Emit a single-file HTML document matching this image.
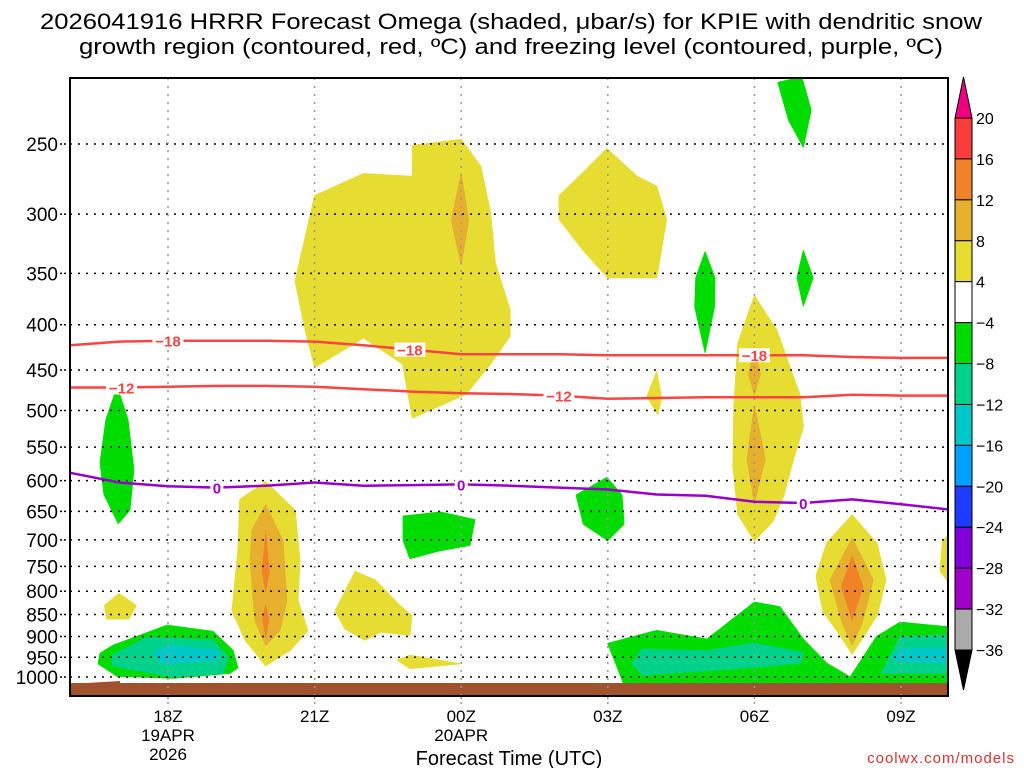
<!DOCTYPE html>
<html><head><meta charset="utf-8"><style>
html,body{margin:0;padding:0;background:#fff;}
svg{display:block;font-family:"Liberation Sans",sans-serif;}
</style></head><body>
<svg id="chart" width="1024" height="768" viewBox="0 0 1024 768" xmlns="http://www.w3.org/2000/svg">
<defs><clipPath id="plotclip"><rect x="70" y="78" width="878" height="618"/></clipPath></defs>
<text x="511" y="29" font-size="22" text-anchor="middle" textLength="942" lengthAdjust="spacingAndGlyphs">2026041916 HRRR Forecast Omega (shaded, μbar/s) for KPIE with dendritic snow</text>
<text x="511" y="54" font-size="22" text-anchor="middle" textLength="864" lengthAdjust="spacingAndGlyphs">growth region (contoured, red, ºC) and freezing level (contoured, purple, ºC)</text>
<g id="shades" clip-path="url(#plotclip)"></g>
<rect x="70" y="683" width="878" height="13" fill="#a0522d"/>
<polygon points="70,684 120,681 120,683" fill="#a0522d"/>
<g id="grid"></g>
<g id="lines" clip-path="url(#plotclip)"></g>
<g id="labels"></g>
<rect x="70" y="78" width="878" height="618" fill="none" stroke="#000" stroke-width="2"/>
<g id="yaxis"></g>
<g id="xaxis"></g>
<text x="509" y="765" font-size="20" text-anchor="middle">Forecast Time (UTC)</text>
<text x="1015" y="763" font-size="15" fill="#e03030" text-anchor="end" letter-spacing="1">coolwx.com/models</text>
<g id="cbar"></g>
</svg>
<script>
// ---- data ----
const hours = [16,17,18,19,20,21,22,23,24,25,26,27,28,29,30,31,32,33,34];
const minus18 = [422,418,417,417,417,418,422,427,432,432,432,433,433,433,433,433,435,436,436];
const minus12 = [471,471,470,469,469,470,473,476,478,479,481,485,484,483,483,483,480,481,481];
const freezing = [588,603,609,611,608,603,608,607,606,608,611,614,622,624,634,636,630,638,647];
const pressureTicks = [250,300,350,400,450,500,550,600,650,700,750,800,850,900,950,1000];
const timeTicks = [18,21,24,27,30,33];
const timeTickLabels = [["18Z","19APR","2026"],["21Z"],["00Z","20APR"],["03Z"],["06Z"],["09Z"]];
const cbarLevels = ["20","16","12","8","4","−4","−8","−12","−16","−20","−24","−28","−32","−36"];
const cbarColors = ["#fa3c3c","#f08228","#e6af2d","#e6dc32","#ffffff","#00dc00","#00d28c","#00c8c8","#00a0ff","#1e3cff","#8200dc","#a000c8","#aaaaaa"];
// shaded regions: [hour, hPa] vertices
const yellowUpper = [[23.0,251],[24.0,247],[24.4,265],[24.6,299],[24.7,341],[25.0,385],[25.0,412],[24.6,443],[24.1,479],[23.0,510],[22.8,443],[22.0,414],[21.0,447],[20.8,404],[20.6,357],[21.0,286],[22.0,270],[23.0,272]];
const orangeUpper = [[24,270],[24.15,305],[24,342],[23.8,305]];
const yellowUpperRight = [[26.98,253],[27.6,272],[28.0,279],[28.2,304],[28.0,354],[27.0,354],[26.5,330],[26.0,304],[26.0,286],[26.5,269]];
const greenTopRight = [[30.48,213],[30.97,210],[31.16,229],[31.0,252],[30.7,235]];
const greenSpike05 = [[28.99,331],[29.19,354],[29.18,382],[28.99,430],[28.78,382],[28.8,354]];
const greenSpike07 = [[31.0,330],[31.2,354],[31.0,381],[30.87,354]];
const yellow06 = [[30.0,371],[30.46,406],[30.93,480],[31.0,522],[30.79,570],[30.6,624],[30.38,667],[30.0,702],[29.66,655],[29.56,577],[29.58,494],[29.66,420]];
const orange06a = [[30,424],[30.12,455],[30,480],[29.88,455]];
const orange06b = [[30,494],[30.22,567],[30,636],[29.85,567]];
const green03 = [[26.98,595],[27.29,623],[27.33,672],[27.0,701],[26.5,672],[26.35,623]];
const yellow08 = [[32.0,656],[32.51,707],[32.69,777],[32.51,852],[32.2,906],[32.0,942],[31.75,897],[31.4,843],[31.26,769],[31.48,705]];
const lorange08 = [[32.0,697],[32.43,777],[32.2,870],[32.0,920],[31.8,870],[31.55,777]];
const dorange08 = [[32.0,731],[32.22,791],[32.0,861],[31.78,791]];
const greenLowRight = [[27.0,916],[28.0,886],[29.03,906],[30.0,823],[30.52,833],[31.0,906],[31.48,965],[31.96,1000],[32.5,900],[32.98,867],[34.2,880],[34.2,1040],[27.39,1040]];
const tealLowRight = [[27.7,930],[29.03,934],[30.0,916],[31.0,939],[30.95,965],[30.0,975],[27.7,995],[27.5,965]];
const tealRight = [[32.98,900],[34.2,895],[34.2,990],[32.6,990]];
const cyanRight = [[33.0,930],[34.2,925],[34.2,965],[33.0,960],[32.8,950]];
const greenLowLeft = [[16.61,940],[16.87,921],[17.98,874],[18.92,888],[19.33,933],[19.43,976],[19.27,990],[18.1,1003],[16.96,998],[16.57,966]];
const tealLowLeft = [[16.86,945],[17.55,903],[18.92,908],[19.23,950],[19.13,990],[18.1,1000],[16.86,971]];
const cyanLowLeft = [[17.7,940],[18.0,921],[19.0,933],[19.03,957],[17.9,966]];
const yellow20 = [[20.0,602],[20.6,648],[20.7,739],[20.66,820],[20.86,886],[20.5,933],[20.0,971],[19.58,909],[19.31,842],[19.43,720],[19.47,630]];
const lorange20 = [[20.0,639],[20.35,701],[20.43,820],[20.29,886],[20.0,921],[19.78,864],[19.68,739],[19.72,682]];
const dorange20a = [[20,690],[20.07,760],[20,800],[19.93,760]];
const dorange20b = [[20,830],[20.06,860],[20,900],[19.94,860]];
const yellow17 = [[16.7,830],[17.0,805],[17.35,830],[17.2,860],[16.75,860]];
const yellow22 = [[21.42,842],[21.83,760],[22.24,777],[22.75,831],[22.99,852],[22.95,897],[22.34,890],[22.03,909],[21.62,882]];
const yellowSliver = [[22.69,957],[22.95,945],[23.98,966],[22.95,978]];
const green00 = [[22.81,658],[23.57,651],[24.28,664],[24.18,710],[23.57,720],[22.95,735],[22.81,701]];
const greenSpike17 = [[16.96,470],[17.18,512],[17.3,583],[17.22,648],[16.98,671],[16.69,622],[16.61,573],[16.73,512]];
const yellow04 = [[28.0,452],[28.1,484],[28.02,505],[27.8,482]];
const yellowEdge = [[33.85,700],[34.2,680],[34.2,810],[33.8,760]];

// ---- axes ----
const X0=168, PX_PER_H=48.87, Y250=144, PX_PER_LN=384.5;
const xOf = h => X0 + (h-18)*PX_PER_H;
const yOf = p => Y250 + Math.log(p/250)*PX_PER_LN;
const NS="http://www.w3.org/2000/svg";
function mk(tag, attrs, parent){const e=document.createElementNS(NS,tag);for(const k in attrs)e.setAttribute(k,attrs[k]);parent.appendChild(e);return e;}
function pts(arr){return arr.map(d=>xOf(d[0]).toFixed(1)+","+yOf(d[1]).toFixed(1)).join(" ");}

const shades=document.getElementById("shades");
const CY="#e6dc32", LO="#e6af2d", DO="#f08228", CG="#00dc00", CT="#00d28c", CC="#00c8c8";
const regions=[
 ["yellow-upper",yellowUpper,CY],["orange-upper",orangeUpper,LO],["yellow-upper-right",yellowUpperRight,CY],
 ["green-top-right",greenTopRight,CG],["green-spike-05z",greenSpike05,CG],["green-spike-07z",greenSpike07,CG],
 ["yellow-06z",yellow06,CY],["orange-06z-upper",orange06a,LO],["orange-06z-lower",orange06b,LO],
 ["green-03z",green03,CG],["yellow-08z",yellow08,CY],["orange-08z",lorange08,LO],["dark-orange-08z",dorange08,DO],
 ["green-low-right",greenLowRight,CG],["teal-low-right",tealLowRight,CT],["teal-right",tealRight,CT],["cyan-right",cyanRight,CC],
 ["green-low-left",greenLowLeft,CG],["teal-low-left",tealLowLeft,CT],["cyan-low-left",cyanLowLeft,CC],
 ["yellow-20z",yellow20,CY],["orange-20z",lorange20,LO],["dark-orange-20z-a",dorange20a,DO],["dark-orange-20z-b",dorange20b,DO],
 ["yellow-17z",yellow17,CY],["yellow-22z",yellow22,CY],["yellow-sliver",yellowSliver,CY],["green-00z",green00,CG],
 ["green-spike-17z",greenSpike17,CG],["yellow-04z",yellow04,CY],["yellow-edge",yellowEdge,CY]
];
regions.forEach(r=>{
 const el=mk("polygon",{points:pts(r[1]),fill:r[2],"stroke":r[2],"stroke-width":"1","stroke-linejoin":"round"},shades);
 
 
});

// grid
const grid=document.getElementById("grid");
pressureTicks.forEach(p=>{
 const el=mk("line",{x1:70,x2:948,y1:yOf(p),y2:yOf(p),stroke:"#000","stroke-width":"1.5","stroke-dasharray":"2 6"},grid);
 
 
});
timeTicks.forEach(h=>{
 const el=mk("line",{x1:xOf(h),x2:xOf(h),y1:78,y2:696,stroke:"#999","stroke-width":"1.5","stroke-dasharray":"2 6"},grid);
 
 
});

// contour lines
const lines=document.getElementById("lines");
function drawLine(vals,color,name){
 const d=hours.map((h,i)=>(i?"L":"M")+xOf(h).toFixed(1)+","+yOf(vals[i]).toFixed(1)).join(" ");
 const el=mk("path",{d:d,fill:"none",stroke:color,"stroke-width":"2.5","stroke-linejoin":"round"},lines);
 
 
}
drawLine(minus18,"#fa4444","contour-minus18");
drawLine(minus12,"#fa4444","contour-minus12");
drawLine(freezing,"#9a00cc","freezing-level-contour");
const labs=document.getElementById("labels");
function interp(vals,h){for(let i=0;i<hours.length-1;i++){if(h>=hours[i]&&h<=hours[i+1]){const t=(h-hours[i]);return vals[i]+(vals[i+1]-vals[i])*t;}}return vals[vals.length-1];}
function lab(vals,h,txt,color,name){
 const x=xOf(h), y=yOf(interp(vals,h));
 const w=txt.length*9+4;
 const r=mk("rect",{x:x-w/2,y:y-7,width:w,height:14,fill:"#fff"},labs);
 
 
 const t=mk("text",{x:x,y:y+6,"font-size":"15","font-weight":"bold",fill:color,"text-anchor":"middle"},labs);
 t.textContent=txt;
 
 
}
lab(minus18,18,"−18","#fa4444","label-minus18-a");
lab(minus18,22.95,"−18","#fa4444","label-minus18-b");
lab(minus18,30,"−18","#fa4444","label-minus18-c");
lab(minus12,17.05,"−12","#fa4444","label-minus12-a");
lab(minus12,26,"−12","#fa4444","label-minus12-b");
lab(freezing,19,"0","#9a00cc","label-freezing-a");
lab(freezing,24,"0","#9a00cc","label-freezing-b");
lab(freezing,31,"0","#9a00cc","label-freezing-c");

// y axis
const ya=document.getElementById("yaxis");
pressureTicks.forEach(p=>{
 const t=mk("text",{x:58,y:yOf(p)+7,"font-size":"19","text-anchor":"end"},ya);
 t.textContent=p;
 
 
 const tk=mk("line",{x1:60,x2:68,y1:yOf(p),y2:yOf(p),stroke:"#000","stroke-width":"1.5","stroke-dasharray":"2 2"},ya);
 
 
});
// x axis
const xa=document.getElementById("xaxis");
timeTicks.forEach((h,i)=>{
 const tk=mk("line",{x1:xOf(h),x2:xOf(h),y1:697,y2:706,stroke:"#999","stroke-width":"1.5","stroke-dasharray":"2 3"},xa);
 
 
 timeTickLabels[i].forEach((s,j)=>{
  const t=mk("text",{x:xOf(h),y:722+j*19,"font-size":"17","text-anchor":"middle"},xa);
  t.textContent=s;
  
  
 });
});

// colorbar
const cb=document.getElementById("cbar");
const CBX=955, CBW=17, CBT=118, BOXH=(650-118)/cbarColors.length;
const cbTop=mk("polygon",{points:`${CBX},${CBT} ${CBX+CBW},${CBT} ${CBX+CBW/2},77`,fill:"#f0007f",stroke:"#000","stroke-width":"1"},cb);


cbarColors.forEach((c,i)=>{
 const r=mk("rect",{x:CBX,y:CBT+i*BOXH,width:CBW,height:BOXH,fill:c,stroke:"#000","stroke-width":"1"},cb);
 
 
});
const cbBot=mk("polygon",{points:`${CBX},650 ${CBX+CBW},650 ${CBX+CBW/2},690`,fill:"#000",stroke:"#000","stroke-width":"1"},cb);


cbarLevels.forEach((s,i)=>{
 const t=mk("text",{x:976,y:CBT+i*BOXH+6,"font-size":"16"},cb);
 t.textContent=s;
 
 
});
</script>
</body></html>
